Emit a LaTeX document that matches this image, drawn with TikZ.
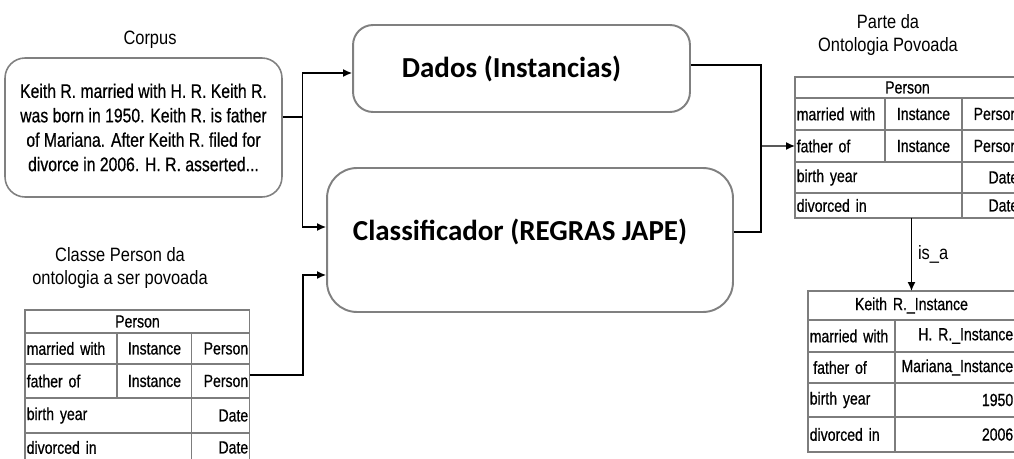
\documentclass[tikz,border=0pt]{standalone}
\usepackage{fontspec}
\setmainfont{Liberation Sans}
\newfontfamily\narrowsf[FakeStretch=0.85]{Liberation Sans}
\newfontfamily\tablesf[FakeStretch=0.8,FakeBold=0.6]{Liberation Sans}
\newfontfamily\calibsf{Carlito}
\usetikzlibrary{arrows.meta,positioning}
\definecolor{boxgray}{RGB}{128,128,128}
\definecolor{linegray}{RGB}{125,125,125}
\tikzset{
roundbox/.style={draw=boxgray,line width=1.1pt,align=center,inner sep=0pt,font=\calibsf\bfseries\fontsize{16.5}{19}\selectfont},
corpusbox/.style={draw=boxgray,line width=0.9pt,rounded corners=0.4cm,align=center,inner sep=0pt,font=\tablesf\fontsize{11.2}{13.9}\selectfont},
title/.style={align=center,font=\narrowsf\fontsize{11}{13.2}\selectfont},
cell/.style={draw=linegray,line width=0.6pt,outer sep=0pt,anchor=north west,inner xsep=1pt,inner ysep=0pt,font=\tablesf\fontsize{10}{12}\selectfont},
lcell/.style={cell,text width=#1-2pt,align=left},
ccell/.style={cell,text width=#1-2pt,align=center},
rcell/.style={cell,text width=#1-2pt,align=right},
arrow/.style={-{Latex[length=1.8mm,width=1.6mm]},line width=0.8pt},
wire/.style={line width=0.8pt}
}
\begin{document}
\begin{tikzpicture}[x=0.02cm,y=-0.02cm]
\useasboundingbox (0,0) rectangle (1014,459);
\clip (0,0) rectangle (1014,459);

\node[title] (corpustitle) at (150,40) {Corpus};
\node[corpusbox,minimum width=5.54cm,minimum height=2.78cm] (corpus) at (143.5,127.5) {Keith R. married with H. R. Keith R.\\was born in 1950. Keith R. is father\\of Mariana. After Keith R. filed for\\divorce in 2006. H. R. asserted...};

\node[roundbox,rounded corners=0.4cm,minimum width=6.74cm,minimum height=1.74cm] (dados) at (521.5,68.5) {Dados (Instancias)\hspace*{0.4cm}};
\node[roundbox,rounded corners=0.6cm,minimum width=8.12cm,minimum height=2.88cm] (classif) at (530,240) {Classificador (REGRAS JAPE)\hspace*{0.4cm}\\[-7.6pt]};

\node[title] (classtitle) at (120,268) {Classe Person da\\ontologia a ser povoada};
\node[ccell=4.5cm,minimum height=0.46cm] (lhead) at (25,310) {Person};
\node[lcell=1.84cm,minimum height=0.62cm] (lmar) at (25,333) {married with};
\node[ccell=1.5cm,minimum height=0.62cm,right=0pt of lmar] (lmarI) {Instance};
\node[rcell=1.16cm,minimum height=0.62cm,right=0pt of lmarI] (lmarP) {Person};
\node[lcell=1.84cm,minimum height=0.68cm] (lfat) at (25,364) {father of};
\node[ccell=1.5cm,minimum height=0.68cm,right=0pt of lfat] (lfatI) {Instance};
\node[rcell=1.16cm,minimum height=0.68cm,right=0pt of lfatI] (lfatP) {Person};
\node[lcell=3.34cm,minimum height=0.7cm] (lbirth) at (25,398) {birth year};
\node[rcell=1.16cm,minimum height=0.7cm,right=0pt of lbirth] (lbirthD) {Date};
\node[lcell=3.34cm,minimum height=0.58cm] (ldiv) at (25,433) {divorced in};
\node[rcell=1.16cm,minimum height=0.58cm,right=0pt of ldiv] (ldivD) {Date};

\node[title] (parttitle) at (888,35) {Parte da\\Ontologia Povoada};
\node[ccell=4.5cm,minimum height=0.42cm] (rhead) at (795,77) {Person};
\node[lcell=1.8cm,minimum height=0.64cm] (rmar) at (795,98) {married with};
\node[ccell=1.54cm,minimum height=0.64cm,right=0pt of rmar] (rmarI) {Instance};
\node[rcell=1.16cm,minimum height=0.64cm,right=0pt of rmarI] (rmarP) {Person};
\node[lcell=1.8cm,minimum height=0.64cm] (rfat) at (795,130) {father of};
\node[ccell=1.54cm,minimum height=0.64cm,right=0pt of rfat] (rfatI) {Instance};
\node[rcell=1.16cm,minimum height=0.64cm,right=0pt of rfatI] (rfatP) {Person};
\node[lcell=3.34cm,minimum height=0.62cm] (rbirth) at (795,162) {birth year};
\node[rcell=1.16cm,minimum height=0.62cm,right=0pt of rbirth] (rbirthD) {Date};
\node[lcell=3.34cm,minimum height=0.5cm] (rdiv) at (795,193) {divorced in};
\node[rcell=1.16cm,minimum height=0.5cm,right=0pt of rdiv] (rdivD) {Date};

\node[ccell=4.14cm,minimum height=0.58cm] (khead) at (808,291) {Keith R.\_Instance};
\node[lcell=1.74cm,minimum height=0.64cm] (kmar) at (808,320) {married with};
\node[rcell=2.4cm,minimum height=0.64cm,right=0pt of kmar] (kmarV) {H. R.\_Instance};
\node[lcell=1.74cm,minimum height=0.62cm] (kfat) at (808,352) {\hspace{2pt}father of};
\node[rcell=2.4cm,minimum height=0.62cm,right=0pt of kfat] (kfatV) {Mariana\_Instance};
\node[lcell=1.74cm,minimum height=0.68cm] (kbirth) at (808,383) {birth year};
\node[rcell=2.4cm,minimum height=0.68cm,right=0pt of kbirth] (kbirthV) {1950};
\node[lcell=1.74cm,minimum height=0.7cm] (kdiv) at (808,417) {divorced in};
\node[rcell=2.4cm,minimum height=0.7cm,right=0pt of kdiv] (kdivV) {2006};

\draw[wire] ([yshift=0.21cm]corpus.east) -- ++(0.4cm,0) coordinate (split);
\draw[arrow] (split) |- ([yshift=-0.09cm]dados.west);
\draw[arrow] (split) |- ([yshift=0.26cm]classif.west);
\draw[arrow] ([yshift=0.12cm]lfatP.east) -- ++(1.06cm,0) |- ([yshift=-0.7cm]classif.west);

\coordinate (join) at (761,146);
\draw[wire] ([yshift=0.07cm]dados.east) -| (join);
\draw[wire] ([yshift=0.16cm]classif.east) -| (join);
\draw[arrow] (join) -- (rfat.west);

\draw[arrow] (khead.north |- rdiv.south) -- node[right,font=\narrowsf\fontsize{11}{13}\selectfont]{is\_a} (khead.north);
\end{tikzpicture}
\end{document}
